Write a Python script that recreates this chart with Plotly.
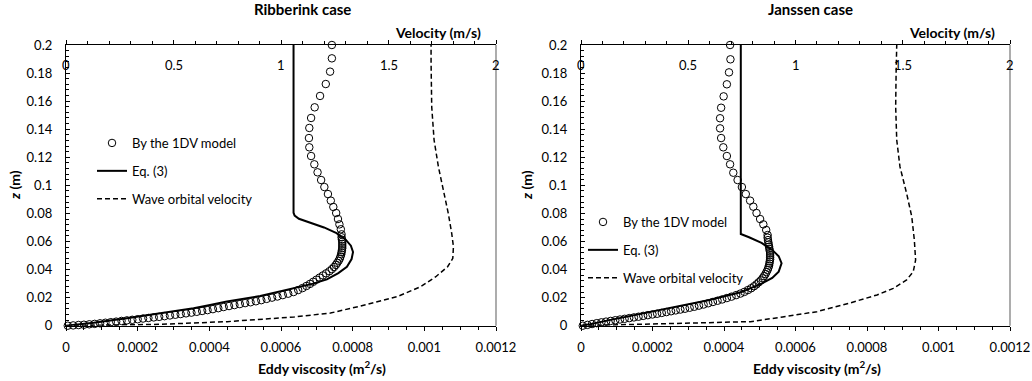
import plotly.graph_objects as go

W, H = 1032, 381

# ---------------- data ----------------
# Ribberink case
rib_model_eddy = [0.000005, 0.000020, 0.000035, 0.000050, 0.000065, 0.000080, 0.000095, 0.000110, 0.000125,
                  0.000140, 0.000155, 0.000170, 0.000185, 0.000200, 0.000215, 0.000230, 0.000245, 0.000260,
                  0.000275, 0.000290, 0.000305, 0.000320, 0.000335, 0.000350, 0.000365, 0.000380, 0.000395,
                  0.000410, 0.000425, 0.000440, 0.000455, 0.000470, 0.000485, 0.000500, 0.000515, 0.000530,
                  0.000545, 0.000560, 0.000575, 0.000590, 0.000605, 0.000620, 0.000635, 0.000648, 0.000660,
                  0.000671, 0.000681, 0.000690, 0.000699, 0.000708, 0.000717, 0.000726, 0.000735, 0.000742,
                  0.000748, 0.000753, 0.000757, 0.000761, 0.000764, 0.000766, 0.000768, 0.000769, 0.000770,
                  0.000771, 0.000771, 0.000771, 0.000771, 0.000770, 0.000769, 0.000769, 0.000767, 0.000763,
                  0.000759, 0.000754, 0.000746, 0.000739, 0.000731, 0.000721, 0.000712, 0.000702, 0.000693,
                  0.000684, 0.000679, 0.000678, 0.000679, 0.000684, 0.000694, 0.000709, 0.000725, 0.000737,
                  0.000742, 0.000742]
rib_model_z = [0.0000, 0.0002, 0.0005, 0.0007, 0.0010, 0.0013, 0.0017, 0.0021, 0.0025,
               0.0029, 0.0034, 0.0038, 0.0042, 0.0046, 0.0051, 0.0055, 0.0059, 0.0063,
               0.0068, 0.0073, 0.0078, 0.0083, 0.0088, 0.0093, 0.0099, 0.0105, 0.0111,
               0.0118, 0.0125, 0.0133, 0.0140, 0.0147, 0.0154, 0.0161, 0.0167, 0.0174,
               0.0182, 0.0191, 0.0200, 0.0208, 0.0218, 0.0228, 0.0240, 0.0254, 0.0268,
               0.0283, 0.0298, 0.0313, 0.0328, 0.0343, 0.0358, 0.0373, 0.0388, 0.0403,
               0.0418, 0.0433, 0.0448, 0.0463, 0.0478, 0.0493, 0.0508, 0.0523, 0.0538,
               0.0553, 0.0568, 0.0583, 0.0598, 0.0613, 0.0630, 0.0651, 0.0687, 0.0722,
               0.0760, 0.0803, 0.0846, 0.0891, 0.0938, 0.0988, 0.1038, 0.1093, 0.1150,
               0.1209, 0.1271, 0.1337, 0.1409, 0.1480, 0.1556, 0.1637, 0.1722, 0.1810,
               0.1905, 0.2000]

rib_eq3_eddy = [0.0, 0.000030, 0.000077, 0.000170, 0.000263, 0.000356, 0.000402, 0.000449, 0.000542,
                0.000635, 0.000690, 0.000728, 0.000760, 0.000784, 0.000797, 0.000801, 0.000795, 0.000780,
                0.000755, 0.000720, 0.000680, 0.000650, 0.000638, 0.000635, 0.000635]
rib_eq3_z = [0.0, 0.0008, 0.0021, 0.0053, 0.0088, 0.0125, 0.0148, 0.0172, 0.0212,
             0.0266, 0.0300, 0.0330, 0.0375, 0.0420, 0.0475, 0.0525, 0.0570, 0.0615,
             0.0660, 0.0700, 0.0735, 0.0762, 0.0785, 0.0805, 0.2000]

rib_wave_vel = [0.0, 0.13, 0.44, 0.75, 1.06, 1.23, 1.37, 1.54, 1.65, 1.72, 1.775, 1.799, 1.802,
                1.794, 1.778, 1.755, 1.732, 1.712, 1.701, 1.698, 1.698]
rib_wave_z = [0.0, 0.0002, 0.0010, 0.0029, 0.0062, 0.0090, 0.0140, 0.0207, 0.0278, 0.0349, 0.0420,
              0.0480, 0.0563, 0.0658, 0.0801, 0.0967, 0.1133, 0.1323, 0.1560, 0.1877, 0.2000]

# Janssen case
jan_model_eddy = [0.000005, 0.000018, 0.000031, 0.000044, 0.000057, 0.000070, 0.000083, 0.000096, 0.000109,
                  0.000122, 0.000135, 0.000148, 0.000161, 0.000174, 0.000187, 0.000200, 0.000213, 0.000226,
                  0.000239, 0.000252, 0.000265, 0.000278, 0.000291, 0.000304, 0.000317, 0.000330, 0.000343,
                  0.000356, 0.000369, 0.000382, 0.000395, 0.000408, 0.000421, 0.000434, 0.000446, 0.000457,
                  0.000467, 0.000476, 0.000484, 0.000491, 0.000497, 0.000503, 0.000508, 0.000512, 0.000516,
                  0.000519, 0.000522, 0.000524, 0.000526, 0.000527, 0.000528, 0.000529, 0.000529, 0.000529,
                  0.000529, 0.000528, 0.000527, 0.000526, 0.000525, 0.000524, 0.000523, 0.000522, 0.000522,
                  0.000518, 0.000510, 0.000501, 0.000491, 0.000482, 0.000473, 0.000461, 0.000450, 0.000438,
                  0.000426, 0.000417, 0.000408, 0.000398, 0.000392, 0.000389, 0.000389, 0.000392, 0.000399,
                  0.000408, 0.000414, 0.000418, 0.000417]
jan_model_z = [0.0000, 0.0006, 0.0012, 0.0018, 0.0024, 0.0029, 0.0034, 0.0039, 0.0044,
               0.0049, 0.0054, 0.0059, 0.0064, 0.0070, 0.0075, 0.0080, 0.0085, 0.0091,
               0.0097, 0.0103, 0.0109, 0.0115, 0.0121, 0.0128, 0.0135, 0.0143, 0.0151,
               0.0160, 0.0169, 0.0178, 0.0187, 0.0197, 0.0207, 0.0218, 0.0229, 0.0241,
               0.0254, 0.0267, 0.0281, 0.0295, 0.0309, 0.0323, 0.0338, 0.0353, 0.0368,
               0.0383, 0.0398, 0.0413, 0.0428, 0.0443, 0.0458, 0.0473, 0.0488, 0.0503,
               0.0518, 0.0533, 0.0548, 0.0563, 0.0578, 0.0594, 0.0610, 0.0627, 0.0646,
               0.0682, 0.0722, 0.0760, 0.0803, 0.0848, 0.0891, 0.0938, 0.0988, 0.1038,
               0.1090, 0.1150, 0.1209, 0.1271, 0.1337, 0.1406, 0.1478, 0.1553, 0.1634,
               0.1720, 0.1805, 0.1898, 0.2000]

jan_eq3_eddy = [0.0, 0.000025, 0.000076, 0.000170, 0.000263, 0.000356, 0.000449, 0.000505, 0.000535,
                0.000553, 0.000561, 0.000553, 0.000535, 0.000505, 0.000470, 0.000447, 0.000447]
jan_eq3_z = [0.0, 0.0010, 0.0038, 0.0086, 0.0133, 0.0181, 0.0240, 0.0300, 0.0340,
             0.0385, 0.0445, 0.0495, 0.0540, 0.0590, 0.0630, 0.0653, 0.2000]

jan_wave_vel = [0.0, 0.13, 0.44, 0.79, 0.94, 1.10, 1.25, 1.38, 1.456, 1.518, 1.549, 1.560, 1.554,
                1.542, 1.518, 1.487, 1.472, 1.467, 1.469, 1.472]
jan_wave_z = [0.0, 0.0004, 0.0016, 0.0029, 0.0062, 0.0100, 0.0160, 0.0219, 0.0266, 0.0326, 0.0385,
              0.0468, 0.0611, 0.0777, 0.0943, 0.1133, 0.1323, 0.1560, 0.1798, 0.2000]

# axes ticks / labels
eddy_ticks = [0, 0.0002, 0.0004, 0.0006, 0.0008, 0.001, 0.0012]
eddy_tick_labels = ["0", "0.0002", "0.0004", "0.0006", "0.0008", "0.001", "0.0012"]
vel_ticks = [0, 0.5, 1, 1.5, 2]
vel_tick_labels = ["0", "0.5", "1", "1.5", "2"]
z_ticks = [0, 0.02, 0.04, 0.06, 0.08, 0.1, 0.12, 0.14, 0.16, 0.18, 0.2]
z_tick_labels = ["0", "0.02", "0.04", "0.06", "0.08", "0.1", "0.12", "0.14", "0.16", "0.18", "0.2"]

panel_titles = ["Ribberink case", "Janssen case"]
legend_names = ["By the 1DV model", "Eq. (3)", "Wave orbital velocity"]

# ---------------- layout helpers ----------------
FONT = "Lato, 'Open Sans', sans-serif"
TICK_SIZE = 13


def fx(px):
    return px / W


def fy(py):
    return 1 - py / H


Y_TOP, Y_BOT = 45, 325.7
panels = [(66, 496), (581, 1010)]

fig = go.Figure()

data = [
    (rib_model_eddy, rib_model_z, rib_eq3_eddy, rib_eq3_z, rib_wave_vel, rib_wave_z),
    (jan_model_eddy, jan_model_z, jan_eq3_eddy, jan_eq3_z, jan_wave_vel, jan_wave_z),
]

for i, (me, mz, ee, ez, wv, wz) in enumerate(data):
    xb = "x" if i == 0 else "x3"
    xt = "x2" if i == 0 else "x4"
    yy = "y" if i == 0 else "y2"
    lg = "legend" if i == 0 else "legend2"
    fig.add_trace(go.Scatter(x=me, y=mz, xaxis=xb, yaxis=yy, mode="markers", name=legend_names[0],
                             marker=dict(symbol="circle-open", size=7.5, color="black", line=dict(width=1)),
                             legend=lg, legendgroup=f"a{i}", cliponaxis=False))
    fig.add_trace(go.Scatter(x=ee, y=ez, xaxis=xb, yaxis=yy, mode="lines", name=legend_names[1],
                             line=dict(color="black", width=2), legend=lg, legendgroup=f"b{i}"))
    fig.add_trace(go.Scatter(x=wv, y=wz, xaxis=xt, yaxis=yy, mode="lines", name=legend_names[2],
                             line=dict(color="black", width=1.5, dash="5px,3px"), legend=lg,
                             legendgroup=f"c{i}"))

tickfont = dict(family=FONT, size=TICK_SIZE, color="black")
layout = dict(
    width=W, height=H, margin=dict(l=0, r=0, t=0, b=0, autoexpand=False),
    paper_bgcolor="white", plot_bgcolor="white",
    font=dict(family=FONT, color="black"),
    showlegend=True,
)

annotations = []
shapes = []

for i, (x0, x1) in enumerate(panels):
    dom = [fx(x0), fx(x1)]
    xb = "xaxis" if i == 0 else "xaxis3"
    xt = "xaxis2" if i == 0 else "xaxis4"
    ya = "yaxis" if i == 0 else "yaxis2"
    yref = "y" if i == 0 else "y2"
    xbref = "x" if i == 0 else "x3"
    xtref = "x2" if i == 0 else "x4"
    layout[xb] = dict(domain=dom, anchor=yref, range=[0, 0.0012], tickvals=eddy_ticks, ticktext=eddy_tick_labels,
                      showline=True, linecolor="black", linewidth=1.3, ticks="outside", ticklen=4,
                      tickcolor="black", showgrid=False, zeroline=False, tickfont=tickfont,
                      ticklabelstandoff=6, automargin=False,
                      minor=dict(dtick=0.00005, ticks="outside", ticklen=3, tickcolor="black", showgrid=False))
    layout[xt] = dict(overlaying=xbref, side="top", anchor=yref, range=[0, 2], tickvals=vel_ticks,
                      showticklabels=False, showline=True, linecolor="black", linewidth=1.3,
                      ticks="outside", ticklen=4, tickcolor="black", showgrid=False, zeroline=False,
                      automargin=False,
                      minor=dict(dtick=0.1, ticks="outside", ticklen=3, tickcolor="black", showgrid=False))
    layout[ya] = dict(domain=[fy(Y_BOT), fy(Y_TOP)], anchor=xbref, range=[0, 0.2], tickvals=z_ticks,
                      ticktext=z_tick_labels, showline=True, linecolor="black", linewidth=1.3,
                      ticks="inside", ticklen=4, tickcolor="black", showgrid=False, zeroline=False,
                      ticklabelstandoff=10, tickfont=tickfont, automargin=False,
                      minor=dict(dtick=0.004, ticks="inside", ticklen=3, tickcolor="black", showgrid=False))

    # top (velocity) tick labels, drawn just below the top axis line
    for v, t in zip(vel_ticks, vel_tick_labels):
        annotations.append(dict(text=t, x=v, xref=xtref, y=fy(65), yref="paper", showarrow=False,
                                xanchor="center", yanchor="middle", font=tickfont))

    off_title = [302, 810][i]
    off_eddy = [322, 817][i]
    zx = [15, 527][i]
    annotations.append(dict(text=f"<b>{panel_titles[i]}</b>", x=fx(off_title), y=fy(9), xref="paper",
                            yref="paper", showarrow=False, xanchor="center", yanchor="middle",
                            font=dict(family=FONT, size=15, color="black")))
    annotations.append(dict(text="<b>Velocity (m/s)</b>", x=fx(x1 - 13), y=fy(33), xref="paper", yref="paper",
                            showarrow=False, xanchor="right", yanchor="middle",
                            font=dict(family=FONT, size=14, color="black")))
    annotations.append(dict(text="<b>Eddy viscosity (m<sup>2</sup>/s)</b>", x=fx(off_eddy), y=fy(367),
                            xref="paper", yref="paper", showarrow=False, xanchor="center", yanchor="middle",
                            font=dict(family=FONT, size=14, color="black")))
    annotations.append(dict(text="<b><i>z</i> (m)</b>", x=fx(zx), y=fy(185), xref="paper", yref="paper",
                            showarrow=False, textangle=-90, xanchor="center", yanchor="middle",
                            font=dict(family=FONT, size=14, color="black")))
    shapes.append(dict(type="line", xref="paper", yref="paper", x0=fx(x1), x1=fx(x1), y0=fy(Y_BOT),
                       y1=fy(Y_TOP), line=dict(color="#808080", width=1.3)))

layout["legend"] = dict(x=fx(92), y=fy(128), xanchor="left", yanchor="top", bgcolor="rgba(0,0,0,0)",
                        font=dict(family=FONT, size=13, color="black"), tracegroupgap=8,
                        traceorder="grouped", itemwidth=30)
layout["legend2"] = dict(x=fx(583), y=fy(207), xanchor="left", yanchor="top", bgcolor="rgba(0,0,0,0)",
                         font=dict(family=FONT, size=13, color="black"), tracegroupgap=8,
                         traceorder="grouped", itemwidth=30)

layout["annotations"] = annotations
layout["shapes"] = shapes
fig.update_layout(**layout)

fig.write_html("out.html", config={"displayModeBar": False},
               post_script="document.body.style.margin='0';document.body.style.overflow='hidden';")
